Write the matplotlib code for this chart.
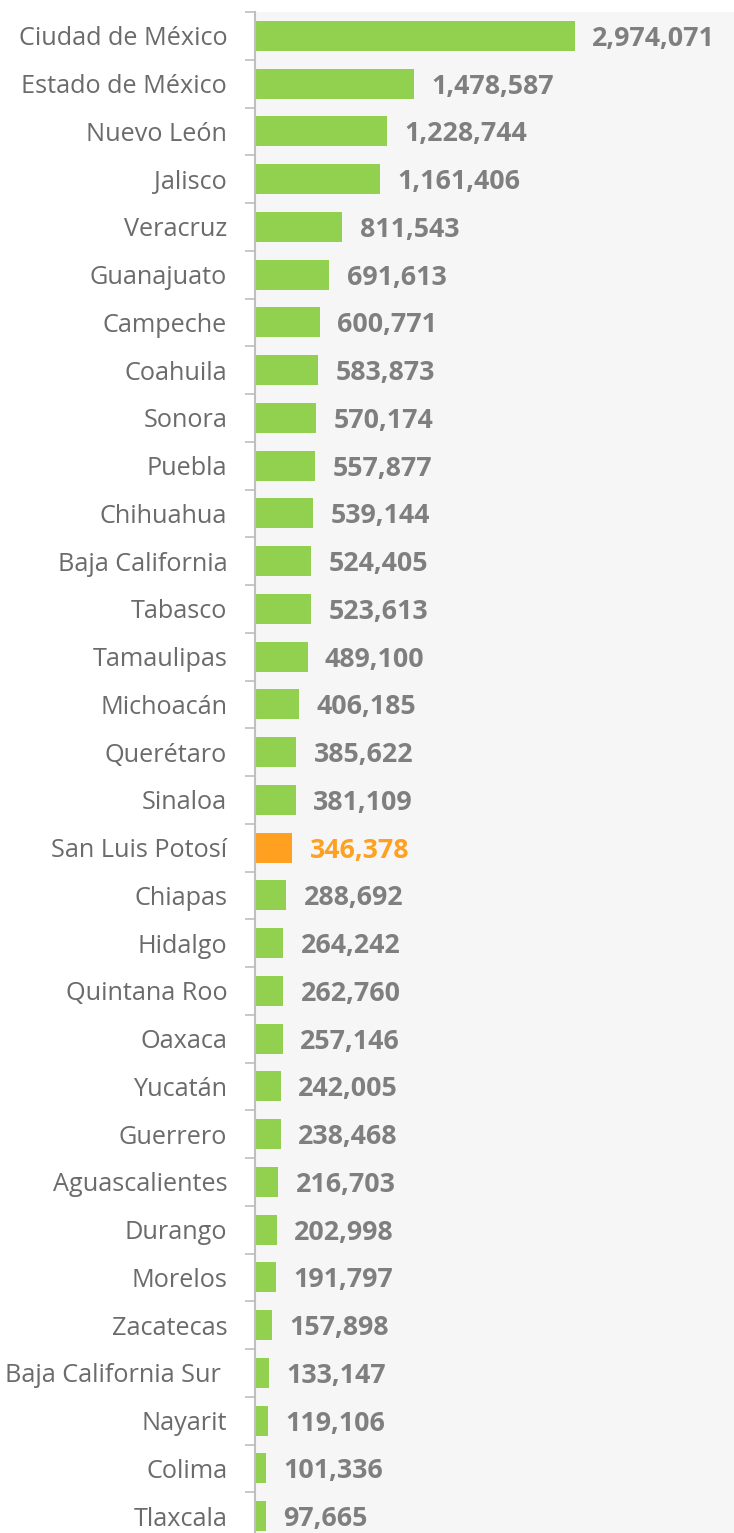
import matplotlib
matplotlib.use("Agg")
import matplotlib.pyplot as plt
import numpy as np

states = ["Ciudad de México", "Estado de México", "Nuevo León", "Jalisco", "Veracruz",
          "Guanajuato", "Campeche", "Coahuila", "Sonora", "Puebla", "Chihuahua",
          "Baja California", "Tabasco", "Tamaulipas", "Michoacán", "Querétaro",
          "Sinaloa", "San Luis Potosí", "Chiapas", "Hidalgo", "Quintana Roo", "Oaxaca",
          "Yucatán", "Guerrero", "Aguascalientes", "Durango", "Morelos", "Zacatecas",
          "Baja California Sur ", "Nayarit", "Colima", "Tlaxcala"]
values = [2974071, 1478587, 1228744, 1161406, 811543, 691613, 600771, 583873, 570174,
          557877, 539144, 524405, 523613, 489100, 406185, 385622, 381109, 346378,
          288692, 264242, 262760, 257146, 242005, 238468, 216703, 202998, 191797,
          157898, 133147, 119106, 101336, 97665]
highlight = "San Luis Potosí"

plt.rcParams['font.family'] = ['Open Sans', 'DejaVu Sans']

W, H = 734, 1533
fig = plt.figure(figsize=(W / 100, H / 100), dpi=100)
top_px, bot_px, left_px = 12, 1540, 255
ax = fig.add_axes([left_px / W, (H - bot_px) / H, (W - left_px) / W, (bot_px - top_px) / H])
ax.set_facecolor("#f6f6f6")

green, orange = "#92d050", "#ffa020"
y = np.arange(len(states))
colors = [orange if s == highlight else green for s in states]
ax.barh(y, values, height=0.63, color=colors, zorder=2)

ax.set_xlim(0, 4451000)
ax.set_ylim(len(states) - 0.5, -0.5)

for yi, v, s in zip(y, values, states):
    c = orange if s == highlight else "#7f7f7f"
    ax.annotate(f"{v:,}", xy=(v, yi), xytext=(12.5, -2.2), textcoords="offset points",
                ha="left", va="center", fontsize=19.3, fontweight="bold", color=c)

ax.set_yticks(y)
ax.set_yticklabels(states, fontsize=18.2, color="#6b6b6b")
ax.set_yticks(np.arange(-0.5, len(states), 1.0), minor=True)
ax.tick_params(axis="y", which="major", length=0, pad=20)
ax.tick_params(axis="y", which="minor", length=7, width=1.2, color="#bfbfbf")
ax.set_xticks([])
for sp in ["top", "right", "bottom"]:
    ax.spines[sp].set_visible(False)
ax.spines["left"].set_color("#bfbfbf")
ax.spines["left"].set_linewidth(1.5)

fig.savefig("out.png", dpi=100)
